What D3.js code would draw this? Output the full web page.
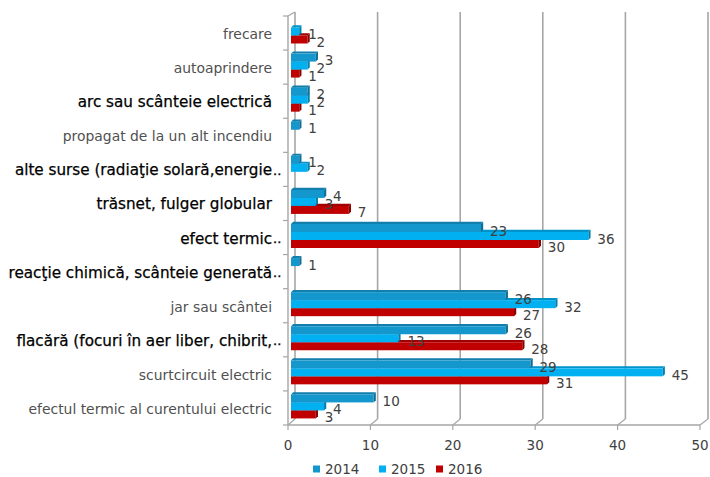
<!DOCTYPE html>
<html>
<head>
<meta charset="utf-8">
<script src="https://cdn.jsdelivr.net/npm/d3@7"></script>
<style>
  body { margin: 0; background: #fff; }
  svg { display: block; }
</style>
</head>
<body>
<div id="chart"></div>
<script>
// categories top to bottom, as in the chart
const categories = [
  "frecare",
  "autoaprindere",
  "arc sau scânteie electrică",
  "propagat de la un alt incendiu",
  "alte surse (radiaţie solară,energie",
  "trăsnet, fulger globular",
  "efect termic",
  "reacţie chimică, scânteie generată",
  "jar sau scântei",
  "flacără (focuri în aer liber, chibrit,",
  "scurtcircuit electric",
  "efectul termic al curentului electric"
];
// labels cut by Excel get ".." appended, and are drawn in the darker style
const truncated = [false, false, false, false, true, false, true, true, false, true, false, false];
const darkLabel = [false, false, true, false, true, true, true, true, false, true, false, false];

const series = ["2014", "2015", "2016"];
const values2014 = [null, 3, 2, 1, 1, 4, 23, 1, 26, 26, 29, 10];
const values2015 = [1, 2, 2, null, 2, 3, 36, null, 32, 13, 45, 4];
const values2016 = [2, 1, 1, null, null, 7, 30, null, 27, 28, 31, 3];
const xTicks = [0, 10, 20, 30, 40, 50];

const colors = { "2014": "#1497cd", "2015": "#00b0f0", "2016": "#c00000" };

var width = 710, height = 477;
var svg = d3.select("#chart").append("svg")
  .attr("width", width).attr("height", height);

// front plane, back wall and bar scales (fake 3D)
var xFront = d3.scaleLinear().domain([0, 50]).range([288, 700]);
var xBack = d3.scaleLinear().domain([0, 50]).range([295, 708]);
var xBar = d3.scaleLinear().domain([0, 50]).range([291, 704]);
var y = d3.scaleBand().domain(categories).range([16, 425]);
var ySeries = d3.scaleBand().domain(series).range([3.5, 27.5]);

var gridColor = "#a6a6a6";
var backTop = 12, backBottom = 419, frontBottom = 425, frontTop = 16;

// back wall gridlines
svg.append("g").selectAll("line")
  .data(xTicks)
  .enter().append("line")
  .attr("x1", d => xBack(d)).attr("x2", d => xBack(d))
  .attr("y1", backTop).attr("y2", backBottom)
  .attr("stroke", gridColor).attr("stroke-width", 1.6);

// floor connectors
svg.append("g").selectAll("line")
  .data(xTicks)
  .enter().append("line")
  .attr("x1", d => xFront(d)).attr("y1", frontBottom)
  .attr("x2", d => xBack(d)).attr("y2", backBottom)
  .attr("stroke", gridColor).attr("stroke-width", 1.2);

svg.append("line")
  .attr("x1", xFront(0)).attr("y1", frontTop)
  .attr("x2", xBack(0)).attr("y2", backTop)
  .attr("stroke", gridColor).attr("stroke-width", 1.2);

// front axes
svg.append("line")
  .attr("x1", xFront(0)).attr("x2", xFront(0))
  .attr("y1", frontTop).attr("y2", frontBottom)
  .attr("stroke", gridColor).attr("stroke-width", 1.4);
svg.append("line")
  .attr("x1", xFront(0)).attr("x2", xFront(50))
  .attr("y1", frontBottom).attr("y2", frontBottom)
  .attr("stroke", gridColor).attr("stroke-width", 1.4);

// y ticks at row boundaries
var rowEdges = categories.map(c => y(c)).concat([y.range()[1]]);
svg.append("g").selectAll("line")
  .data(rowEdges)
  .enter().append("line")
  .attr("x1", xFront(0) - 5).attr("x2", xFront(0))
  .attr("y1", d => d).attr("y2", d => d)
  .attr("stroke", gridColor).attr("stroke-width", 1.2);

// x ticks + labels
svg.append("g").selectAll("line")
  .data(xTicks)
  .enter().append("line")
  .attr("x1", d => xFront(d)).attr("x2", d => xFront(d))
  .attr("y1", frontBottom).attr("y2", frontBottom + 5)
  .attr("stroke", gridColor).attr("stroke-width", 1.2);
svg.append("g").selectAll("text")
  .data(xTicks)
  .enter().append("text")
  .attr("x", d => xFront(d)).attr("y", 445)
  .attr("text-anchor", "middle").attr("dominant-baseline", "central")
  .style("font", "13.5px 'DejaVu Sans'").attr("fill", "#404040")
  .text(d => d);

// category labels
var catG = svg.append("g");
categories.forEach(function(c, i) {
  var cy = y(c) + y.bandwidth() / 2 + 1;
  var t = catG.append("text")
    .attr("x", 272).attr("y", cy)
    .attr("text-anchor", "end").attr("dominant-baseline", "central")
    .text(c);
  if (darkLabel[i]) {
    t.style("font", "15.2px 'DejaVu Sans'").attr("fill", "#000")
      .attr("stroke", "#000").attr("stroke-width", 0.25);
  } else {
    t.style("font", "13.9px 'DejaVu Sans'").attr("fill", "#505050");
  }
  if (truncated[i]) {
    catG.append("text")
      .attr("x", 273).attr("y", cy)
      .attr("dominant-baseline", "central")
      .style("font", "13px 'DejaVu Sans'").attr("fill", "#000")
      .attr("stroke", "#000").attr("stroke-width", 0.3)
      .text("..");
  }
});

// bars: bottom series first so upper bars cover their top faces
var seriesValues = { "2014": values2014, "2015": values2015, "2016": values2016 };
var depth = 2.2;
var barsG = svg.append("g");
series.slice().reverse().forEach(function(s) {
  var rows = categories.map((c, i) => ({ cat: c, v: seriesValues[s][i] }))
    .filter(d => d.v !== null);
  var base = d3.color(colors[s]);
  var g = barsG.append("g");
  rows.forEach(function(d) {
    var x0 = xBar(0), x1 = xBar(d.v);
    var y0 = y(d.cat) + ySeries(s), h = ySeries.bandwidth();
    g.append("polygon")
      .attr("points", [[x0, y0], [x1, y0], [x1 + depth, y0 - depth], [x0 + depth, y0 - depth]].join(" "))
      .attr("fill", base.darker(0.5));
    g.append("rect")
      .attr("x", x0).attr("y", y0)
      .attr("width", x1 - x0).attr("height", h)
      .attr("fill", base);
    g.append("polygon")
      .attr("points", [[x1, y0], [x1 + depth, y0 - depth], [x1 + depth, y0 + h - depth], [x1, y0 + h]].join(" "))
      .attr("fill", base.darker(0.9));
  });
});

// value labels
var labelsG = svg.append("g");
series.forEach(function(s) {
  categories.forEach(function(c, i) {
    var v = seriesValues[s][i];
    if (v === null) return;
    labelsG.append("text")
      .attr("x", xBar(v) + 9)
      .attr("y", y(c) + ySeries(s) + ySeries.bandwidth() / 2 + 2.5)
      .attr("dominant-baseline", "central")
      .style("font", "13.5px 'DejaVu Sans'").attr("fill", "#404040")
      .text(v);
  });
});

// legend
var legendX = [313, 379, 436];
var legend = svg.append("g");
series.forEach(function(s, i) {
  legend.append("rect")
    .attr("x", legendX[i]).attr("y", 465.5)
    .attr("width", 7).attr("height", 7)
    .attr("fill", colors[s]);
  legend.append("text")
    .attr("x", legendX[i] + 12).attr("y", 469)
    .attr("dominant-baseline", "central")
    .style("font", "13.5px 'DejaVu Sans'").attr("fill", "#404040")
    .text(s);
});
</script>
</body>
</html>
